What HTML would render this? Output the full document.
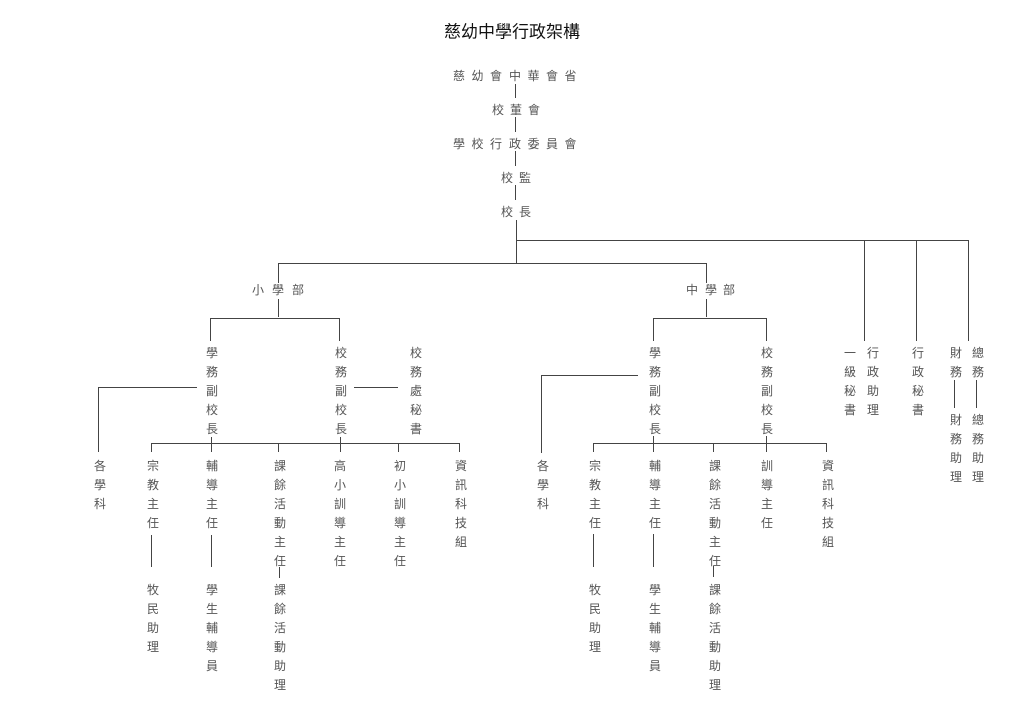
<!DOCTYPE html>
<html><head><meta charset="utf-8"><style>
html,body{margin:0;padding:0;background:#fff;width:1024px;height:723px;overflow:hidden}
svg text{font-family:"Liberation Sans","Noto Sans CJK TC",sans-serif;font-size:12px;fill:#555;text-anchor:middle;dominant-baseline:central}
svg line,svg polyline{stroke:#444;stroke-width:1;fill:none}
</style></head><body>
<svg width="1024" height="723" viewBox="0 0 1024 723">
<text x="512" y="32" style="font-size:17px;fill:#111">慈幼中學行政架構</text>
<text x="459 477.5 496 515 533.5 552 570.5" y="76">慈幼會中華會省</text>
<line x1="515.5" y1="84" x2="515.5" y2="98"/>
<text x="498 516 534" y="110">校董會</text>
<line x1="515.5" y1="117" x2="515.5" y2="132"/>
<text x="459 477.5 496 515 533.5 552 570.5" y="144">學校行政委員會</text>
<line x1="515.5" y1="151" x2="515.5" y2="166"/>
<text x="507 525" y="178">校監</text>
<line x1="515.5" y1="185" x2="515.5" y2="200"/>
<text x="507 525" y="212">校長</text>
<line x1="516.5" y1="220" x2="516.5" y2="263"/>
<polyline points="517,240.5 968.5,240.5 968.5,341"/>
<line x1="864.5" y1="240" x2="864.5" y2="341"/>
<line x1="916.5" y1="240" x2="916.5" y2="341"/>
<polyline points="278.5,283 278.5,263.5 706.5,263.5 706.5,283"/>
<text x="258 278 298" y="290">小學部</text>
<text x="692 711 729" y="290">中學部</text>
<line x1="278.5" y1="299" x2="278.5" y2="317"/>
<line x1="706.5" y1="299" x2="706.5" y2="317"/>
<polyline points="210.5,341 210.5,318.5 339.5,318.5 339.5,341"/>
<polyline points="653.5,341 653.5,318.5 766.5,318.5 766.5,341"/>

<!-- left -->
<text x="212 212 212 212 212" y="353 372 391 410 429">學務副校長</text>
<text x="341 341 341 341 341" y="353 372 391 410 429">校務副校長</text>
<text x="416 416 416 416 416" y="353 372 391 410 429">校務處秘書</text>
<polyline points="197,387.5 98.5,387.5 98.5,452"/>
<line x1="354" y1="387.5" x2="398" y2="387.5"/>
<line x1="151.5" y1="443.5" x2="459.5" y2="443.5"/>
<line x1="151.5" y1="443" x2="151.5" y2="452"/>
<line x1="211.5" y1="437" x2="211.5" y2="452"/>
<line x1="278.5" y1="443" x2="278.5" y2="452"/>
<line x1="340.5" y1="437" x2="340.5" y2="452"/>
<line x1="398.5" y1="443" x2="398.5" y2="452"/>
<line x1="459.5" y1="443" x2="459.5" y2="452"/>
<text x="100 100 100" y="466 485 504">各學科</text>
<text x="153 153 153 153" y="466 485 504 523">宗教主任</text>
<text x="212 212 212 212" y="466 485 504 523">輔導主任</text>
<text x="280 280 280 280 280 280" y="466 485 504 523 542 561">課餘活動主任</text>
<text x="340 340 340 340 340 340" y="466 485 504 523 542 561">高小訓導主任</text>
<text x="400 400 400 400 400 400" y="466 485 504 523 542 561">初小訓導主任</text>
<text x="461 461 461 461 461" y="466 485 504 523 542">資訊科技組</text>
<line x1="151.5" y1="535" x2="151.5" y2="567"/>
<line x1="211.5" y1="535" x2="211.5" y2="567"/>
<line x1="279.5" y1="567" x2="279.5" y2="578"/>
<text x="153 153 153 153" y="590 609 628 647">牧民助理</text>
<text x="212 212 212 212 212" y="590 609 628 647 666">學生輔導員</text>
<text x="280 280 280 280 280 280" y="590 609 628 647 666 685">課餘活動助理</text>

<!-- right -->
<text x="655 655 655 655 655" y="353 372 391 410 429">學務副校長</text>
<text x="767 767 767 767 767" y="353 372 391 410 429">校務副校長</text>
<polyline points="638,375.5 541.5,375.5 541.5,453"/>
<line x1="593.5" y1="443.5" x2="826.5" y2="443.5"/>
<line x1="593.5" y1="443" x2="593.5" y2="452"/>
<line x1="653.5" y1="436" x2="653.5" y2="452"/>
<line x1="713.5" y1="443" x2="713.5" y2="452"/>
<line x1="766.5" y1="436" x2="766.5" y2="452"/>
<line x1="826.5" y1="443" x2="826.5" y2="452"/>
<text x="543 543 543" y="466 485 504">各學科</text>
<text x="595 595 595 595" y="466 485 504 523">宗教主任</text>
<text x="655 655 655 655" y="466 485 504 523">輔導主任</text>
<text x="715 715 715 715 715 715" y="466 485 504 523 542 561">課餘活動主任</text>
<text x="767 767 767 767" y="466 485 504 523">訓導主任</text>
<text x="828 828 828 828 828" y="466 485 504 523 542">資訊科技組</text>
<line x1="593.5" y1="534" x2="593.5" y2="567"/>
<line x1="653.5" y1="534" x2="653.5" y2="567"/>
<line x1="713.5" y1="566" x2="713.5" y2="577"/>
<text x="595 595 595 595" y="590 609 628 647">牧民助理</text>
<text x="655 655 655 655 655" y="590 609 628 647 666">學生輔導員</text>
<text x="715 715 715 715 715 715" y="590 609 628 647 666 685">課餘活動助理</text>

<text x="850 850 850 850" y="353 372 391 410">一級秘書</text>
<text x="873 873 873 873" y="353 372 391 410">行政助理</text>
<text x="918 918 918 918" y="353 372 391 410">行政秘書</text>
<text x="956 956" y="353 372">財務</text>
<text x="978 978" y="353 372">總務</text>
<line x1="954.5" y1="380" x2="954.5" y2="408"/>
<line x1="976.5" y1="380" x2="976.5" y2="408"/>
<text x="956 956 956 956" y="420 439 458 477">財務助理</text>
<text x="978 978 978 978" y="420 439 458 477">總務助理</text>
</svg>
</body></html>
